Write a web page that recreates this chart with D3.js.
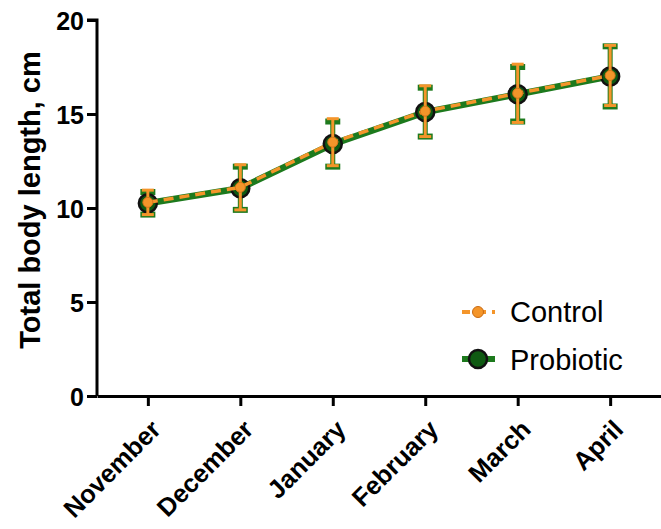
<!DOCTYPE html>
<html>
<head>
<meta charset="utf-8">
<script src="https://cdn.jsdelivr.net/npm/d3@7"></script>
<style>
  body { margin: 0; background: #fff; }
  text { font-family: Arial, "Liberation Sans", sans-serif; }
</style>
</head>
<body>
<div id="chart"></div>
<script>
// data
const months = ["November", "December", "January", "February", "March", "April"];
const controlMean = [10.3, 11.1, 13.5, 15.15, 16.1, 17.05];
const controlSd = [0.65, 1.2, 1.25, 1.35, 1.55, 1.6];
const probioticMean = [10.25, 11.05, 13.4, 15.1, 16.05, 17.0];
const probioticSd = [0.6, 1.15, 1.2, 1.3, 1.45, 1.6];
const yTicks = [0, 5, 10, 15, 20];

const width = 661;
const height = 529;
const margin = { top: 20, right: 0, bottom: 133, left: 97 };

const orange = "#f4952a";
const green = "#1d7a1d";

const svg = d3.select("#chart")
  .append("svg")
  .attr("width", width)
  .attr("height", height);

const xScale = d3.scalePoint()
  .domain(months)
  .range([margin.left, width - margin.right])
  .padding(0.55);

const yScale = d3.scaleLinear()
  .domain([0, 20])
  .range([height - margin.bottom, margin.top]);

const rows = (mean, sd) => months.map((m, i) => ({ m, v: mean[i], sd: sd[i] }));
const pro = rows(probioticMean, probioticSd);
const con = rows(controlMean, controlSd);

const line = d3.line()
  .x(d => xScale(d.m))
  .y(d => yScale(d.v));

// Probiotic error bars (green, underneath)
const errG = svg.append("g");
pro.forEach(d => {
  const x = xScale(d.m);
  errG.append("line")
    .attr("x1", x).attr("x2", x)
    .attr("y1", yScale(d.v - d.sd)).attr("y2", yScale(d.v + d.sd))
    .attr("stroke", green).attr("stroke-width", 5);
  [d.v - d.sd, d.v + d.sd].forEach(v => {
    errG.append("line")
      .attr("x1", x - 7.5).attr("x2", x + 7.5)
      .attr("y1", yScale(v)).attr("y2", yScale(v))
      .attr("stroke", green).attr("stroke-width", 6);
  });
});

svg.append("path")
  .datum(pro)
  .attr("d", line)
  .attr("fill", "none")
  .attr("stroke", green)
  .attr("stroke-width", 6.5);

svg.selectAll(".pro-pt")
  .data(pro)
  .enter()
  .append("circle")
  .attr("class", "pro-pt")
  .attr("cx", d => xScale(d.m))
  .attr("cy", d => yScale(d.v))
  .attr("r", 9)
  .attr("fill", "#0f5a12")
  .attr("stroke", "#111")
  .attr("stroke-width", 2.5);

// Control on top
const errO = svg.append("g");
con.forEach(d => {
  const x = xScale(d.m);
  errO.append("line")
    .attr("x1", x).attr("x2", x)
    .attr("y1", yScale(d.v - d.sd)).attr("y2", yScale(d.v + d.sd))
    .attr("stroke", orange).attr("stroke-width", 3);
  [d.v - d.sd, d.v + d.sd].forEach(v => {
    errO.append("line")
      .attr("x1", x - 6).attr("x2", x + 6)
      .attr("y1", yScale(v)).attr("y2", yScale(v))
      .attr("stroke", orange).attr("stroke-width", 3);
  });
});

svg.append("path")
  .datum(con)
  .attr("d", line)
  .attr("fill", "none")
  .attr("stroke", orange)
  .attr("stroke-width", 3.5)
  .attr("stroke-dasharray", "10,6");

svg.selectAll(".con-pt")
  .data(con)
  .enter()
  .append("circle")
  .attr("class", "con-pt")
  .attr("cx", d => xScale(d.m))
  .attr("cy", d => yScale(d.v))
  .attr("r", 5)
  .attr("fill", orange)
  .attr("stroke", "#d9761a")
  .attr("stroke-width", 1);

// Y axis
const yAxis = svg.append("g")
  .attr("transform", `translate(${margin.left}, 0)`)
  .call(d3.axisLeft(yScale).tickValues(yTicks).tickSize(10).tickPadding(3));
yAxis.select(".domain").attr("stroke", "#000").attr("stroke-width", 3)
  .attr("d", `M-10,${yScale(20)}H0V${yScale(0)}`);
yAxis.selectAll(".tick line").attr("stroke", "#000").attr("stroke-width", 3);
yAxis.selectAll(".tick text")
  .style("font-family", "Arial, 'Liberation Sans', sans-serif")
  .style("font-size", "25px")
  .style("font-weight", "bold")
  .attr("fill", "#000")
  .attr("dy", "0.36em");

// X axis
const xAxis = svg.append("g")
  .attr("transform", `translate(0, ${height - margin.bottom})`)
  .call(d3.axisBottom(xScale).tickSize(10).tickSizeOuter(0));
xAxis.select(".domain").attr("stroke", "#000").attr("stroke-width", 3);
xAxis.selectAll(".tick line").attr("stroke", "#000").attr("stroke-width", 3);
xAxis.selectAll(".tick text")
  .style("font-family", "Arial, 'Liberation Sans', sans-serif")
  .style("font-size", "25.5px")
  .style("font-weight", "bold")
  .attr("fill", "#000")
  .attr("text-anchor", "end")
  .attr("y", 0)
  .attr("dy", "0")
  .attr("transform", "translate(14, 35) rotate(-45)");

// y-label
svg.append("text")
  .attr("x", -200)
  .attr("y", 40)
  .attr("transform", "rotate(-90)")
  .attr("text-anchor", "middle")
  .style("font-size", "29px")
  .style("font-weight", "bold")
  .text("Total body length, cm");

// Legend
const legend = svg.append("g").attr("transform", "translate(478, 0)");

const lc = legend.append("g").attr("transform", "translate(0, 312)");
lc.append("line")
  .attr("x1", -16).attr("x2", 17)
  .attr("stroke", orange).attr("stroke-width", 4)
  .attr("stroke-dasharray", "10,6").attr("stroke-dashoffset", 2);
lc.append("circle").attr("r", 5.5).attr("fill", orange).attr("stroke", "#c96a12");
lc.append("text").attr("x", 32).attr("y", 10).style("font-size", "29px").text("Control");

const lp = legend.append("g").attr("transform", "translate(0, 359)");
lp.append("line")
  .attr("x1", -16).attr("x2", 17)
  .attr("stroke", green).attr("stroke-width", 6);
lp.append("circle").attr("r", 9).attr("fill", "#0f5a12").attr("stroke", "#111").attr("stroke-width", 2.5);
lp.append("text").attr("x", 32).attr("y", 11).style("font-size", "29px").text("Probiotic");
</script>
</body>
</html>
